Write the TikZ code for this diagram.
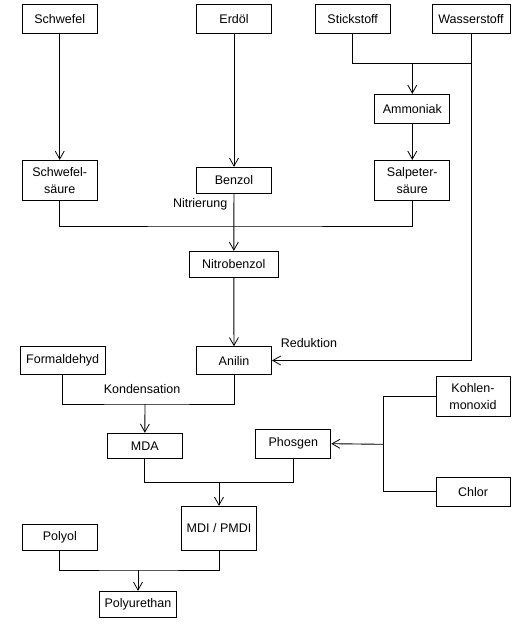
\documentclass[tikz,border=0pt]{standalone}
\usepackage{fontspec}
\setmainfont{Liberation Sans}
\usetikzlibrary{arrows.meta,calc,positioning}

\begin{document}
\begin{tikzpicture}[x=1pt, y=-1pt, line width=0.9pt,
    >={Straight Barb[length=8pt,width=9pt,line width=0.8pt]},
    font=\fontsize{12.5}{17.5}\selectfont]
   \useasboundingbox (0,0) rectangle (528,637);
   \begin{scope}[every node/.style={draw, align=center, inner sep=0pt,
        minimum width=75, minimum height=29}]
    \node (schwefel) at (59.7,18.8) {Schwefel};
    \node (erdoel) at (234,18.8) {Erdöl};
    \node (stickstoff) at (352.7,18.8) {Stickstoff};
    \node (wasserstoff) [minimum width=78] at (471,18.8) {Wasserstoff};
    \node (ammoniak) at (412.3,108.8) {Ammoniak};
    \node (schwefelsaeure) [minimum height=40] at (59.7,180.3) {Schwefel-\\säure};
    \node (benzol) [minimum height=26] at (234,180.3) {Benzol};
    \node (salpetersaeure) [minimum height=40] at (412.3,180.3) {Salpeter-\\säure};
    \node (nitrobenzol) [minimum width=89, minimum height=26] at (233.8,264.3) {Nitrobenzol};
    \node (anilin) [minimum height=27.6] at (234,360.5) {Anilin};
    \node (formaldehyd) [minimum width=85, minimum height=28] at (62.7,360.2) {Formaldehyd};
    \node (mda) [minimum height=25] at (144.8,445.7) {MDA};
    \node (phosgen) at (293.3,443.7) {Phosgen};
    \node (kohlenmonoxid) [minimum width=74, minimum height=40] at (473,396.3) {Kohlen-\\monoxid};
    \node (chlor) [minimum width=74] at (473,491.8) {Chlor};
    \node (mdi) [minimum height=44] at (219,528.3) {MDI / PMDI};
    \node (polyol) [minimum width=75.7, minimum height=26] at (59.8,537.3) {Polyol};
    \node (polyurethan) [minimum width=77, minimum height=26] at (138,604.3) {Polyurethan};
   \end{scope}
   % Verzweigungen
   \coordinate (jn) at (412.3,63);
   \coordinate (jh) at (471.7,63);
   \coordinate (js) at (234,226);
   \coordinate (jk) at (145,404);
   \coordinate (jp) at (383.3,444.3);
   \coordinate (jm) at (219,482.3);
   \coordinate (jpu) at (138,570);
   \draw (stickstoff.south) |- (jh);
   \draw (schwefelsaeure.south) |- (js) -| (salpetersaeure.south);
   \draw (formaldehyd.south) |- (jk) -| (anilin.south);
   \draw (kohlenmonoxid.west) -| (jp) |- (chlor.west);
   \draw (mda.south) |- (jm) -| (phosgen.south);
   \draw (polyol.south) |- (jpu) -| (mdi.south);
   \begin{scope}[->]
    \draw (schwefel) -- (schwefelsaeure);
    \draw (erdoel) -- (benzol);
    \draw (jn) -- (ammoniak);
    \draw (ammoniak) -- (salpetersaeure);
    \draw (benzol) -- (nitrobenzol);
    \draw (nitrobenzol) -- (anilin);
    \draw (wasserstoff.south -| jh) |- (anilin.east);
    \draw (jk) -- (mda);
    \draw (jp) -- (phosgen.east);
    \draw (jm) -- (mdi);
    \draw (jpu) -- (polyurethan);
   \end{scope}
   \node (nitrierung) [anchor=east] at (231,204.3) {Nitrierung};
   \node (reduktion) [anchor=west] at (277,343.3) {Reduktion};
   \node (kondensation) at (142,388.7) {Kondensation};
\end{tikzpicture}
\end{document}
